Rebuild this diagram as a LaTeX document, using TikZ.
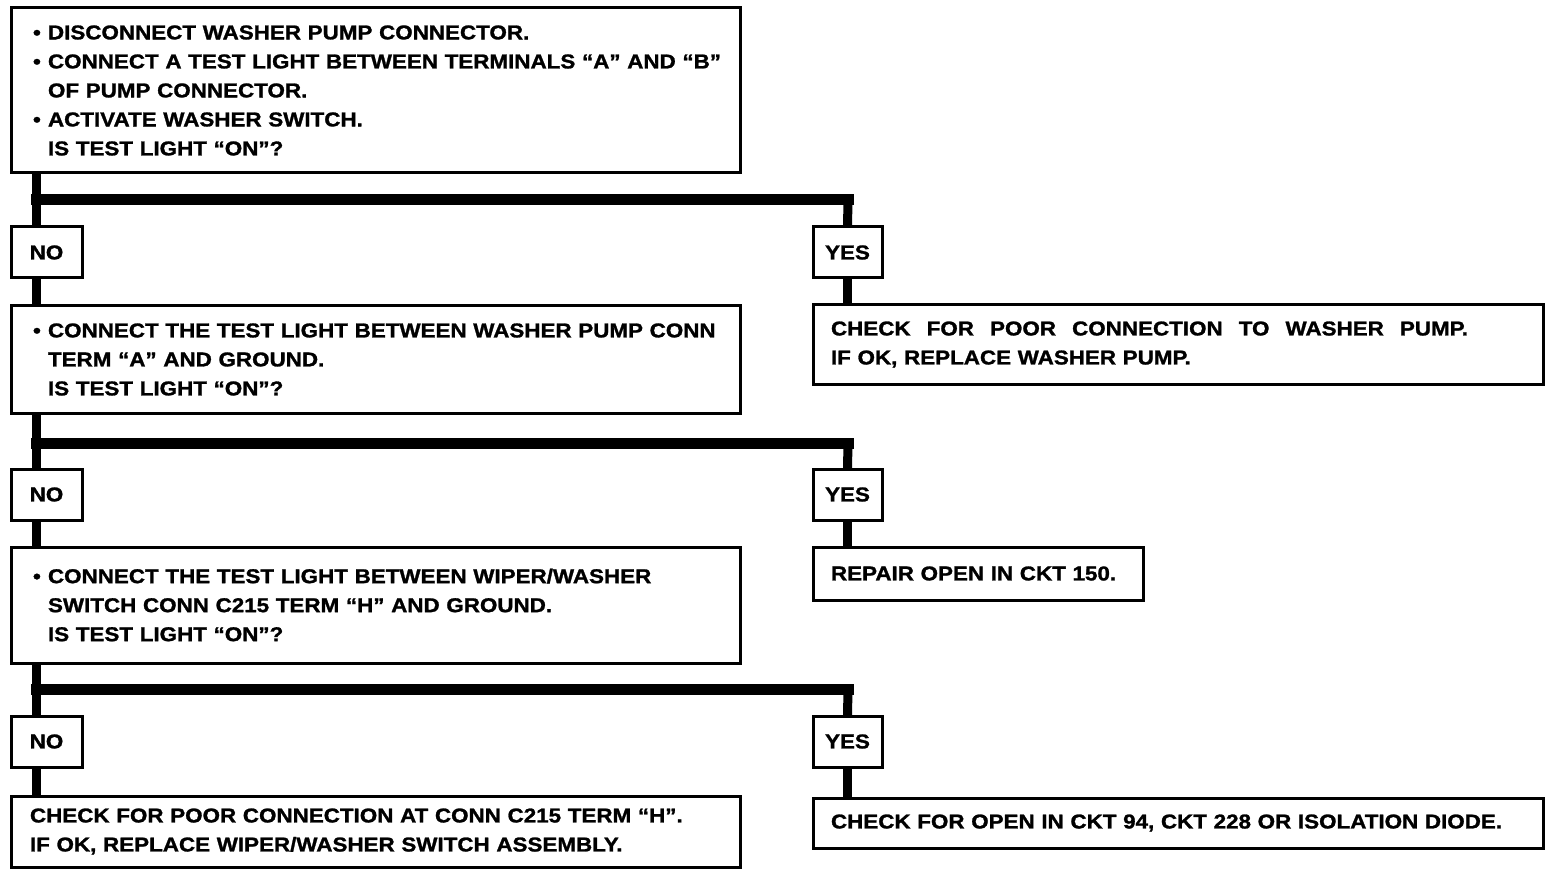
\documentclass[tikz,border=0pt]{standalone}
\usepackage{fontspec}
\newfontfamily\lbl[FakeStretch=1.12,BoldFeatures={FakeBold=1.3}]{Liberation Sans}
\newcommand{\bul}{\makebox[15pt][l]{\textbullet}}
\newcommand{\ind}{\hspace*{15pt}}
\begin{document}
\begin{tikzpicture}[x=1pt,y=-1pt,
  box/.style={draw, line width=3pt, outer sep=0pt, anchor=north west, align=left,
    font=\lbl\bfseries\fontsize{20}{29}\selectfont, inner ysep=0pt},
  tag/.style={draw, line width=3pt, outer sep=0pt, anchor=north west, minimum width=71pt,
    minimum height=51pt, inner sep=0pt, font=\lbl\bfseries\fontsize{20}{24}\selectfont},
  vline/.style={line width=9pt},
  hbar/.style={line width=11pt, line cap=rect}]
\useasboundingbox (0,0) rectangle (1568,874);

% questions (left column)
\node[box, text width=685pt, inner xsep=22pt, minimum height=165pt] (q1) at (11,8)
  {\mbox{\bul DISCONNECT WASHER PUMP CONNECTOR.}\\
   \mbox{\bul CONNECT A TEST LIGHT BETWEEN TERMINALS “A” AND “B”}\\
   \mbox{\ind OF PUMP CONNECTOR.}\\
   \mbox{\bul ACTIVATE WASHER SWITCH.}\\
   \mbox{\ind IS TEST LIGHT “ON”?}};
\node[box, text width=685pt, inner xsep=22pt, minimum height=107pt] (q2) at (11,306)
  {\mbox{\bul CONNECT THE TEST LIGHT BETWEEN WASHER PUMP CONN}\\
   \mbox{\ind TERM “A” AND GROUND.}\\
   \mbox{\ind IS TEST LIGHT “ON”?}};
\node[box, text width=685pt, inner xsep=22pt, minimum height=116pt] (q3) at (11,547)
  {\mbox{\bul CONNECT THE TEST LIGHT BETWEEN WIPER/WASHER}\\
   \mbox{\ind SWITCH CONN C215 TERM “H” AND GROUND.}\\
   \mbox{\ind IS TEST LIGHT “ON”?}};
\node[box, text width=691pt, inner xsep=19pt, minimum height=71pt] (a4) at (11,796)
  {\mbox{CHECK FOR POOR CONNECTION AT CONN C215 TERM “H”.}\\
   \mbox{IF OK, REPLACE WIPER/WASHER SWITCH ASSEMBLY.}};

% answers (right column)
\node[box, text width=694pt, inner xsep=18pt, minimum height=79pt] (r1) at (813,305)
  {\makebox[637pt][l]{CHECK\hfill FOR\hfill POOR\hfill CONNECTION\hfill TO\hfill WASHER\hfill PUMP.}\\
   \mbox{IF OK, REPLACE WASHER PUMP.}};
\node[box, text width=294pt, inner xsep=18pt, minimum height=53pt] (r2) at (813,547)
  {\mbox{REPAIR OPEN IN CKT 150.}};
\node[box, text width=694pt, inner xsep=18pt, minimum height=50pt] (r3) at (813,798)
  {\mbox{CHECK FOR OPEN IN CKT 94, CKT 228 OR ISOLATION DIODE.}};

% NO / YES tags
\node[tag] (n1) at (11,227) {NO};
\node[tag, minimum width=69pt] (y1) at (813,227) {YES};
\node[tag] (n2) at (11,469) {NO};
\node[tag, minimum width=69pt] (y2) at (813,469) {YES};
\node[tag] (n3) at (11,716) {NO};
\node[tag, minimum width=69pt] (y3) at (813,716) {YES};

% branch bars
\coordinate (j1) at (36,200);  \coordinate (k1) at (848,200);
\coordinate (j2) at (36,443);  \coordinate (k2) at (848,443);
\coordinate (j3) at (36,689);  \coordinate (k3) at (848,689);
\draw[hbar] (j1) -- (k1);
\draw[hbar] (j2) -- (k2);
\draw[hbar] (j3) -- (k3);

% connectors
\draw[vline] ([xshift=25pt]q1.south west) -- ([xshift=25pt]n1.north west);
\draw[vline] (k1) -- (y1.north);
\draw[vline] ([xshift=25pt]n1.south west) -- ([xshift=25pt]q2.north west);
\draw[vline] (y1.south) -- (y1.south |- r1.north);

\draw[vline] ([xshift=25pt]q2.south west) -- ([xshift=25pt]n2.north west);
\draw[vline] (k2) -- (y2.north);
\draw[vline] ([xshift=25pt]n2.south west) -- ([xshift=25pt]q3.north west);
\draw[vline] (y2.south) -- (y2.south |- r2.north);

\draw[vline] ([xshift=25pt]q3.south west) -- ([xshift=25pt]n3.north west);
\draw[vline] (k3) -- (y3.north);
\draw[vline] ([xshift=25pt]n3.south west) -- ([xshift=25pt]a4.north west);
\draw[vline] (y3.south) -- (y3.south |- r3.north);
\end{tikzpicture}
\end{document}
